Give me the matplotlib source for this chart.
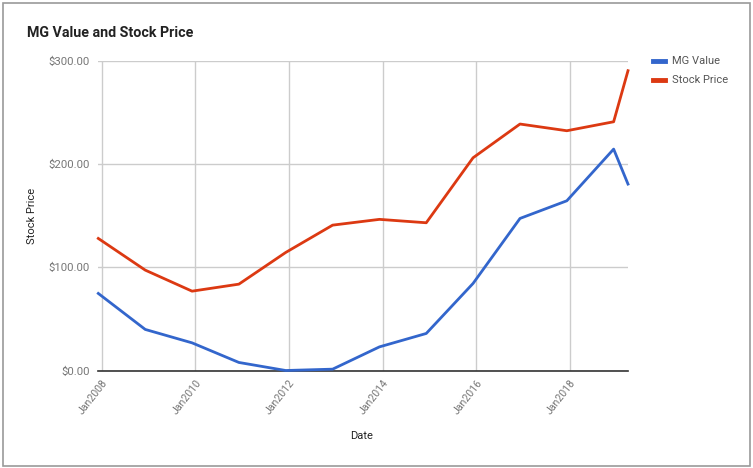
import matplotlib
matplotlib.use("Agg")
import matplotlib.pyplot as plt
from matplotlib.patches import Rectangle
from matplotlib.lines import Line2D
from matplotlib.transforms import ScaledTranslation
import datetime as dt

dates = ["2007-12-07", "2008-12-07", "2009-12-07", "2010-12-07", "2011-12-07",
         "2012-12-07", "2013-12-07", "2014-12-07", "2015-12-07", "2016-12-07",
         "2017-12-07", "2018-12-07", "2019-03-29"]
mg_value = [74.7, 39.8, 26.8, 7.8, 0.0, 1.3, 22.9, 35.9, 84.4, 147.4, 164.5, 214.6, 180.7]
stock_price = [128.0, 97.3, 76.9, 83.7, 114.4, 140.9, 146.5, 143.2, 206.2, 238.9, 232.4, 241.1, 290.6]
series_names = ["MG Value", "Stock Price"]
y_ticks = [0, 100, 200, 300]
x_tick_years = [2008, 2010, 2012, 2014, 2016, 2018]

plt.rcParams['font.family'] = ['Roboto', 'DejaVu Sans']

W, H = 753, 468
fig = plt.figure(figsize=(W / 100, H / 100), dpi=100)

x = [dt.datetime.strptime(d, "%Y-%m-%d") for d in dates]

left, right, top, bottom = 98.3, 628, 61, 370.5
ax = fig.add_axes([left / W, 1 - bottom / H, (right - left) / W, (bottom - top) / H])

blue = "#3366CC"
red = "#DC3912"
ax.plot(x, mg_value, color=blue, lw=2, solid_joinstyle='round', zorder=3, clip_on=False)
ax.plot(x, stock_price, color=red, lw=2, solid_joinstyle='round', zorder=3, clip_on=False)

ax.set_xlim(x[0], x[-1])
ax.set_ylim(0, 300)

xt = [dt.datetime(y, 1, 1) for y in x_tick_years]
ax.set_xticks(xt)
ax.set_xticklabels([f"Jan{y}" for y in x_tick_years], rotation=52, ha='right', va='top',
                   rotation_mode='anchor', color='#777777', fontsize=7.6)
for lab in ax.get_xticklabels():
    lab.set_transform(lab.get_transform() + ScaledTranslation(3.5 / 100, 0, fig.dpi_scale_trans))
ax.set_yticks(y_ticks)
ax.set_yticklabels([f"${v:.2f}" for v in y_ticks], color='#777777', fontsize=8.2)
ax.tick_params(axis='y', length=0, pad=6)
ax.tick_params(axis='x', length=0, pad=5.4)

ax.grid(True, color='#cccccc', lw=1)
ax.set_axisbelow(True)
for s in ['top', 'right', 'left']:
    ax.spines[s].set_visible(False)
ax.spines['bottom'].set_color('#333333')
ax.spines['bottom'].set_linewidth(1.2)

ax.set_ylabel("Stock Price", fontsize=8, color='#222222')
ax.yaxis.set_label_coords(-(left - 37) / (right - left), 0.5)
fig.text(362 / W, 1 - 436 / H, "Date", fontsize=8, color='#222222', ha='center', va='center')

fig.text(27 / W, 1 - 33 / H, "MG Value and Stock Price", fontsize=10.3, fontweight='bold',
         color='#222222', ha='left', va='center')

# legend
for i, (name, col) in enumerate(zip(series_names, [blue, red])):
    yy = 1 - (61 + 19 * i) / H
    fig.add_artist(Line2D([653 / W, 665 / W], [yy, yy], color=col, lw=3.5))
    fig.text(672 / W, yy, name, fontsize=8, color='#555555', ha='left', va='center')

# outer border
fig.add_artist(Rectangle((2.5 / W, 1 - 465.5 / H), 747.5 / W, 463 / H, fill=False,
                         edgecolor='#9a9a9a', lw=1.2, transform=fig.transFigure))

fig.savefig("out.png", dpi=100)
